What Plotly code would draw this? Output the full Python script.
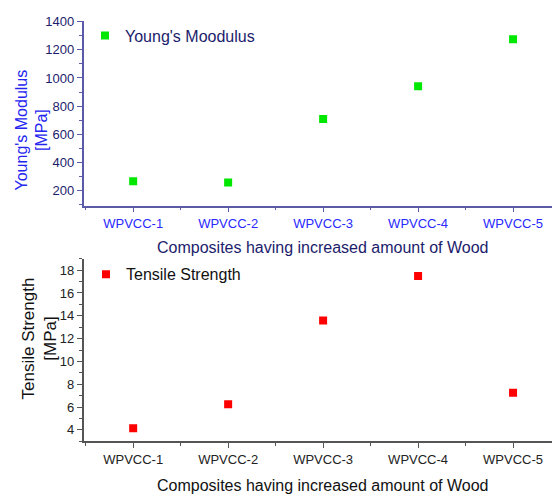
import plotly.graph_objects as go

categories = ["WPVCC-1", "WPVCC-2", "WPVCC-3", "WPVCC-4", "WPVCC-5"]
youngs_modulus = [268, 259, 708, 942, 1275]
tensile_strength = [4.15, 6.24, 13.58, 17.48, 7.26]

W, H = 552, 494
xpos = list(range(1, len(categories) + 1))

FONT = "Arial, Liberation Sans, sans-serif"
NAVY = "#1c1c6c"
BLUE = "#2424f0"
BLUE_TICK = "#2a2aff"
TOP_AXIS = "#5a5aa6"
BOT_AXIS = "#555555"

def px_x(p):
    return p / W

def px_y(p):
    return 1 - p / H

fig = go.Figure()
fig.add_trace(go.Scatter(
    x=xpos, y=youngs_modulus, mode="markers", name="Young's Moodulus",
    marker=dict(symbol="square", size=8, color="#00e800"),
    xaxis="x", yaxis="y", legend="legend"))
fig.add_trace(go.Scatter(
    x=xpos, y=tensile_strength, mode="markers", name="Tensile Strength",
    marker=dict(symbol="square", size=8, color="#ff0000"),
    xaxis="x2", yaxis="y2", legend="legend2"))

xdom = [px_x(83.5), 1.0]
xrange_ = [0.477, 5.41]

common_x = dict(
    domain=xdom, range=xrange_, tickmode="array", tickvals=xpos, ticktext=categories,
    ticks="outside", ticklen=5, tickwidth=1, showline=True, linewidth=1.5,
    showgrid=False, zeroline=False, automargin=False,
    minor=dict(tickmode="linear", tick0=0.5, dtick=1, ticks="outside", ticklen=3),
)

fig.update_layout(
    width=W, height=H,
    margin=dict(l=0, r=0, t=0, b=0),
    paper_bgcolor="white", plot_bgcolor="white",
    font=dict(family=FONT, size=13),
    xaxis=dict(**common_x, anchor="y", linecolor=TOP_AXIS, tickcolor=TOP_AXIS,
               tickfont=dict(color=BLUE_TICK, size=13, family=FONT),
               minor_tickcolor=TOP_AXIS),
    yaxis=dict(domain=[px_y(205.7), px_y(20.7)], range=[94, 1406], anchor="x",
               tickmode="linear", tick0=200, dtick=200,
               ticks="outside", ticklen=5, showline=True, linewidth=1.5,
               linecolor=TOP_AXIS, tickcolor=TOP_AXIS, showgrid=False, zeroline=False,
               tickfont=dict(color=NAVY, size=13, family=FONT), automargin=False,
               minor=dict(tickmode="linear", tick0=100, dtick=100, ticks="outside",
                          ticklen=3, tickcolor=TOP_AXIS)),
    xaxis2=dict(**common_x, anchor="y2", linecolor=BOT_AXIS, tickcolor=BOT_AXIS,
                tickfont=dict(color="#222222", size=13, family=FONT),
                minor_tickcolor=BOT_AXIS),
    yaxis2=dict(domain=[px_y(441.3), px_y(258.7)], range=[3, 19], anchor="x2",
                tickmode="linear", tick0=4, dtick=2,
                ticks="outside", ticklen=5, showline=True, linewidth=1.5,
                linecolor=BOT_AXIS, tickcolor=BOT_AXIS, showgrid=False, zeroline=False,
                tickfont=dict(color="#222222", size=13, family=FONT), automargin=False,
                minor=dict(tickmode="linear", tick0=3, dtick=1, ticks="outside",
                           ticklen=3, tickcolor=BOT_AXIS)),
    legend=dict(x=px_x(85), y=px_y(35.7), xanchor="left", yanchor="middle",
                bgcolor="rgba(0,0,0,0)", font=dict(color=NAVY, size=16, family=FONT)),
    legend2=dict(x=px_x(86), y=px_y(274.3), xanchor="left", yanchor="middle",
                 bgcolor="rgba(0,0,0,0)", font=dict(color="#111111", size=16, family=FONT)),
    showlegend=True,
)

annotations = [
    dict(text="Young's Modulus<br>[MPa]", x=px_x(31.5), y=px_y(130), textangle=-90,
         font=dict(color=BLUE, size=16, family=FONT)),
    dict(text="Composites having increased amount of Wood", x=px_x(322.5), y=px_y(248),
         font=dict(color=NAVY, size=16, family=FONT)),
    dict(text="Tensile Strength<br>[MPa]", x=px_x(39), y=px_y(338.5), textangle=-90,
         font=dict(color="#111111", size=17, family=FONT)),
    dict(text="Composites having increased amount of Wood", x=px_x(322.5), y=px_y(485.5),
         font=dict(color="#111111", size=16, family=FONT)),
]
for a in annotations:
    fig.add_annotation(xref="paper", yref="paper", showarrow=False,
                       xanchor="center", yanchor="middle", **a)

fig.write_html(
    "out.html",
    config={"displayModeBar": False},
    post_script="document.body.style.margin='0';document.body.style.overflow='hidden';",
)
